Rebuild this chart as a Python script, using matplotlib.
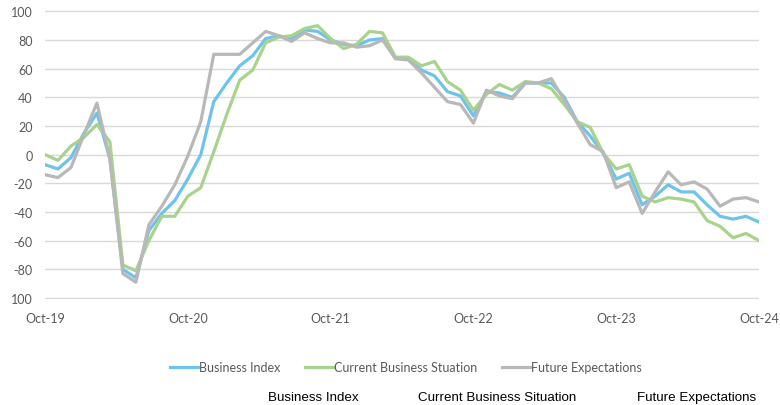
import numpy as np
import matplotlib.pyplot as plt

plt.rcParams['font.family'] = ['Lato', 'DejaVu Sans']

# monthly readings, Oct-19 .. Oct-24 (as plotted)
x_labels = ["Oct-19", "Oct-20", "Oct-21", "Oct-22", "Oct-23", "Oct-24"]

business_index = [
    -7, -10, -2, 15, 29, -3, -80, -86, -53, -41,
    -32, -17, 0, 37, 50, 62, 69, 81, 83, 81,
    87, 86, 80, 77, 76, 80, 81, 67, 67, 59,
    55, 44, 41, 27, 44, 43, 40, 50, 50, 50,
    40, 23, 13, 1, -17, -13, -35, -29, -21, -26,
    -26, -35, -43, -45, -43, -47,
]
current_situation = [
    0, -4, 6, 12, 21, 9, -77, -81, -60, -43,
    -43, -29, -23, 2, 28, 52, 59, 78, 82, 83,
    88, 90, 81, 74, 77, 86, 85, 68, 68, 62,
    65, 51, 45, 31, 42, 49, 45, 51, 50, 46,
    35, 23, 19, 1, -10, -7, -29, -33, -30, -31,
    -33, -46, -50, -58, -55, -60,
]
future_expectations = [
    -14, -16, -9, 14, 36, -3, -83, -89, -49, -36,
    -21, -1, 23, 70, 70, 70, 78, 86, 83, 79,
    85, 81, 78, 78, 75, 76, 80, 67, 66, 57,
    47, 37, 35, 22, 45, 41, 39, 50, 50, 53,
    38, 22, 7, 2, -23, -19, -41, -26, -12, -21,
    -19, -24, -36, -31, -30, -33,
]

y_ticks = [100, 80, 60, 40, 20, 0, -20, -40, -60, -80, -100]
y_labels = ["100", "80", "60", "40", "20", "0", "-20", "-40", "-60", "-80", "100"]

x = np.arange(len(business_index))

fig = plt.figure(figsize=(7.8, 4.06), dpi=100)
ax = fig.add_axes([45/780, 1 - 300.4/406, 714/780, (300.4 - 10.9)/406])

ax.plot(x, business_index, color="#6EC3EC", lw=2.3, label="Business Index")
ax.plot(x, current_situation, color="#A8D38C", lw=2.3, label="Current Business Stuation")
ax.plot(x, future_expectations, color="#B8B8B8", lw=2.3, label="Future Expectations")

ax.set_xlim(0, len(x) - 1)
ax.set_ylim(-101, 101)
ax.set_xticks(x[::11], x_labels)
ax.set_yticks(y_ticks, y_labels)
ax.grid(axis='y', color='#D9D9D9', lw=1.0)
ax.set_axisbelow(True)
for s in ax.spines.values():
    s.set_visible(False)
ax.tick_params(length=0, labelsize=9, labelcolor='#595959', pad=9)

fig.legend(loc='center', bbox_to_anchor=(406/780, 1 - 368/406), ncol=3,
           frameon=False, handlelength=2.2, handletextpad=0.1,
           columnspacing=2.0, fontsize=9, labelcolor='#595959')

for xpos, txt in [(268, "Business Index"), (418, "Current Business Situation"),
                  (637, "Future Expectations")]:
    fig.text(xpos/780, 1 - 398/406, txt, family="Liberation Sans",
             size=9.6, va='center', ha='left', color='black')

fig.savefig("out.png", dpi=100)
